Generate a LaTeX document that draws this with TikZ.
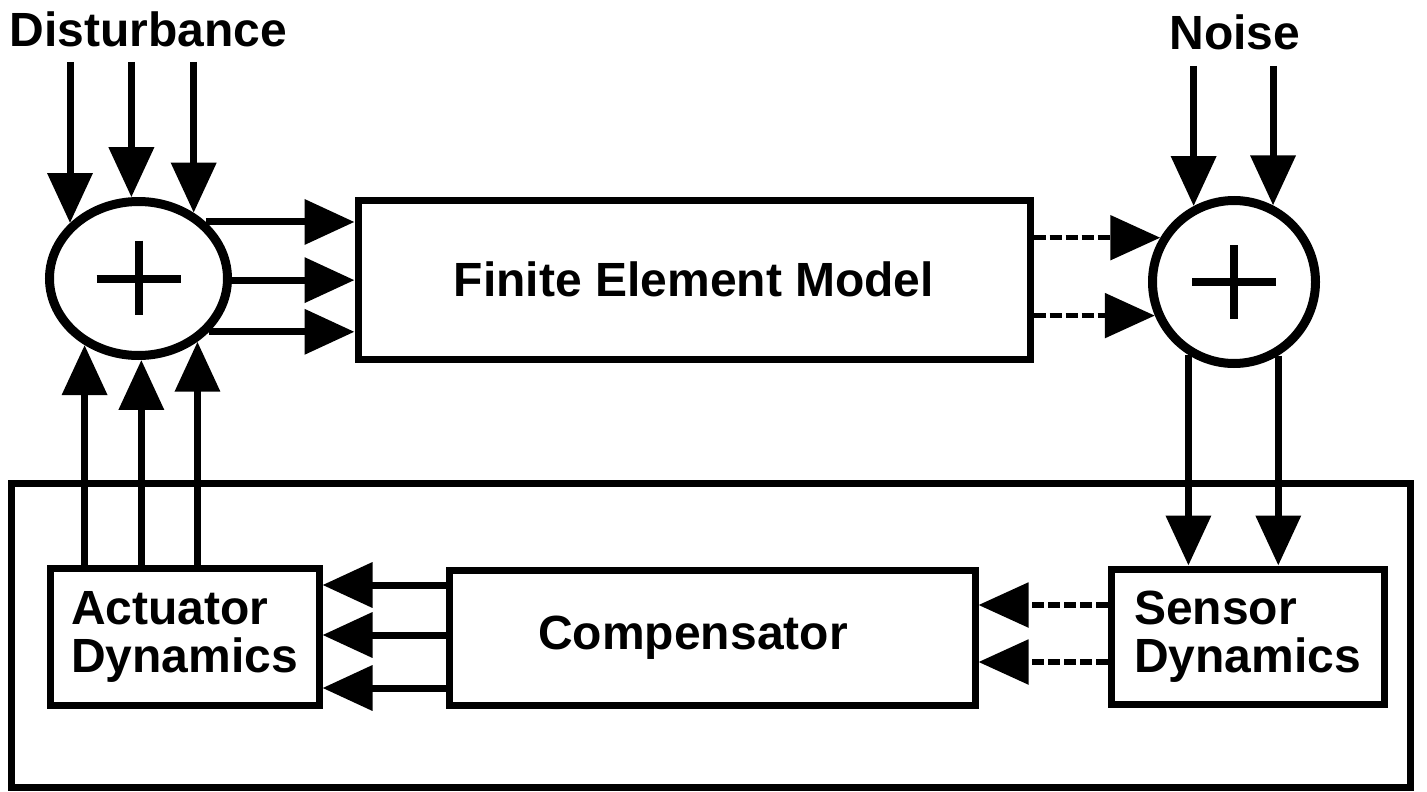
\documentclass[tikz,border=0pt]{standalone}
\usepackage{fontspec}
\setmainfont{Liberation Sans}
\usetikzlibrary{arrows.meta,shapes.geometric}
\begin{document}
\begin{tikzpicture}[x=1pt,y=-1pt,
  lbl/.style={font=\fontsize{48}{48}\selectfont\bfseries, inner sep=0pt},
  box/.style={draw, line width=7pt, rectangle, inner sep=0pt, lbl},
  sumnode/.style={draw, line width=9pt, ellipse, inner sep=0pt},
  plusbar/.style={line width=8pt},
  arr/.style={line width=7pt, -{Triangle[length=50pt,width=44pt]}},
  darr/.style={arr, line width=5.5pt, dash pattern=on 12pt off 4pt}]
\useasboundingbox (0,0) rectangle (1427,792);

% blocks
\node[box, minimum width=1399pt, minimum height=304pt] (loop) at (710.5,635) {};
\node[box, minimum width=672pt, minimum height=159pt] (fem) at (694,279.5) {Finite Element Model};
\node[box, minimum width=269pt, minimum height=137pt, align=left] (act) at (184.5,636.5) {Actuator\\Dynamics};
\node[box, minimum width=526pt, minimum height=135pt] (comp) at (712,637.5) {};
\node[lbl] (comptext) at ([xshift=-19pt]comp.center) {Compensator};
\node[box, minimum width=273pt, minimum height=135pt, align=left] (sens) at (1247.5,636.5) {Sensor\\Dynamics};
\node[sumnode, minimum width=178pt, minimum height=154pt] (sumL) at (138.5,278.5) {};
\node[sumnode, minimum width=163pt, minimum height=163pt] (sumR) at (1234,282) {};

% labels
\node[lbl, anchor=base] (dist) at (148.5,47) {Disturbance};
\node[lbl, anchor=base] (noise) at (1235,50) {Noise};

% plus signs
\draw[plusbar] ([xshift=-42pt]sumL.center) -- ([xshift=42pt]sumL.center);
\draw[plusbar] ([yshift=38pt]sumL.center) -- ([yshift=-36pt]sumL.center);
\draw[plusbar] ([xshift=-42pt]sumR.center) -- ([xshift=42pt]sumR.center);
\draw[plusbar] ([yshift=37pt]sumR.center) -- ([yshift=-37pt]sumR.center);

% helper coordinates
\coordinate (dtop) at (0,62);
\coordinate (ntop) at (0,66);
\coordinate (ca1) at (0,585);
\coordinate (ca2) at (0,635);
\coordinate (ca3) at (0,688);
\coordinate (sc1) at (0,605);
\coordinate (sc2) at (0,662);

% disturbance inputs
\foreach \a in {141,95,50} \draw[arr] (sumL.\a |- dtop) -- (sumL.\a);
% actuator feedback into left summer
\foreach \a in {231,272,313} \draw[arr] (sumL.\a |- act.north) -- (sumL.\a);
% left summer to FEM
\foreach \a in {40,-1,-37} \draw[arr] (sumL.\a) -- (sumL.\a -| fem.west);
% noise inputs
\foreach \a in {118.5,63.8} \draw[arr] (sumR.\a |- ntop) -- (sumR.\a);
% FEM to right summer
\foreach \a in {149,203} \draw[darr] (sumR.\a -| fem.east) -- (sumR.\a);
% right summer to sensor
\foreach \a in {238,301.5} \draw[arr] (sumR.\a) -- (sumR.\a |- sens.north);
% compensator to actuator
\foreach \c in {ca1,ca2,ca3} \draw[arr] (comp.west |- \c) -- (act.east |- \c);
% sensor to compensator
\foreach \c in {sc1,sc2} \draw[darr] (sens.west |- \c) -- (comp.east |- \c);
\end{tikzpicture}
\end{document}
